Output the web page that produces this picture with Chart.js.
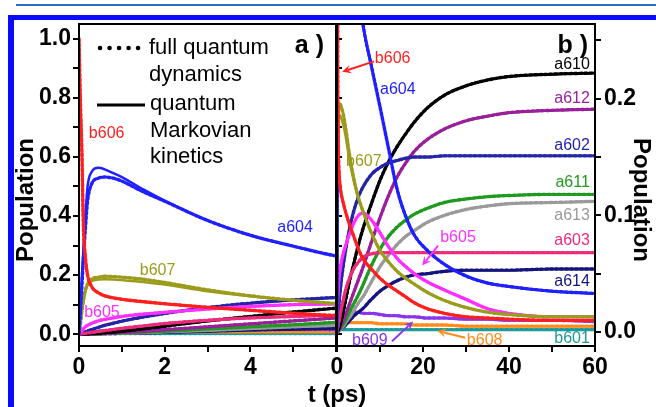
<!DOCTYPE html>
<html>
<head>
<meta charset="utf-8">
<script src="https://cdn.jsdelivr.net/npm/chart.js@4.4.1/dist/chart.umd.min.js"></script>
<style>
  body { margin: 0; width: 656px; height: 407px; overflow: hidden; position: relative; background: #fff;
         font-family: "Liberation Sans", Arial, sans-serif; }
  .rule { position: absolute; left: 16px; top: 4px; width: 640px; height: 2px; background: #2a6fc4; }
  .frame { position: absolute; left: 8px; top: 15px; width: 800px; height: 600px;
           border-left: 6px solid #0a0aff; border-top: 5px solid #0a0aff; }
  canvas { position: absolute; top: 0; }
  #chartA { left: 0; }
  #chartB { left: 326px; }
  .title { position: absolute; font-weight: bold; font-size: 24px; color: #000; white-space: nowrap; }
  #ytitleL { left: 25px; top: 200px; transform: translate(-50%, -50%) rotate(-90deg); }
  #ytitleR { left: 642px; top: 200px; transform: translate(-50%, -50%) rotate(90deg); }
  #xtitle { left: 337px; top: 394px; transform: translate(-50%, -50%); }
</style>
</head>
<body>
<div class="rule"></div>
<div class="frame"></div>
<canvas id="chartA" width="345" height="407"></canvas>
<canvas id="chartB" width="330" height="407"></canvas>
<div class="title" id="ytitleL">Population</div>
<div class="title" id="ytitleR">Population</div>
<div class="title" id="xtitle">t (ps)</div>
<script>
// time points (ps), shared by both panels
const times = [0, 0.03, 0.07, 0.1, 0.15, 0.2, 0.3, 0.45, 0.6, 0.8, 1, 1.5, 2, 3, 4, 5, 6,
               8, 10, 12, 14, 16, 18, 21, 25, 30, 35, 40, 50, 60];

// quantum Markovian kinetics (solid lines)
const b606 = [1.0, 0.8, 0.6, 0.38, 0.26, 0.2, 0.16, 0.14, 0.13, 0.123, 0.118, 0.11, 0.103, 0.091, 0.081, 0.071, 0.063,
              0.054, 0.046, 0.04, 0.035, 0.03, 0.025, 0.02, 0.016, 0.013, 0.012, 0.011, 0.01, 0.01];
const a604 = [0, 0.08, 0.2, 0.28, 0.4, 0.5, 0.55, 0.563, 0.558, 0.545, 0.532, 0.49, 0.452, 0.385, 0.335, 0.298, 0.265,
              0.228, 0.193, 0.157, 0.122, 0.099, 0.083, 0.07, 0.058, 0.048, 0.042, 0.039, 0.035, 0.033];
const b607 = [0, 0.03, 0.08, 0.11, 0.145, 0.165, 0.18, 0.185, 0.186, 0.185, 0.183, 0.177, 0.168, 0.145, 0.128, 0.114, 0.104,
              0.085, 0.07, 0.06, 0.052, 0.046, 0.041, 0.034, 0.027, 0.021, 0.017, 0.015, 0.013, 0.013];
const b605 = [0, 0.005, 0.012, 0.018, 0.025, 0.03, 0.037, 0.045, 0.05, 0.055, 0.06, 0.068, 0.074, 0.085, 0.094, 0.1, 0.102,
              0.096, 0.085, 0.073, 0.063, 0.056, 0.05, 0.043, 0.036, 0.028, 0.02, 0.016, 0.013, 0.013];
const a603 = [0, 0.001, 0.001, 0.002, 0.003, 0.004, 0.006, 0.009, 0.012, 0.016, 0.02, 0.028, 0.036, 0.047, 0.055, 0.06, 0.064,
              0.067, 0.068, 0.068, 0.068, 0.068, 0.068, 0.068, 0.068, 0.068, 0.068, 0.068, 0.068, 0.068];
const a602 = [0, 0.001, 0.003, 0.005, 0.008, 0.011, 0.016, 0.023, 0.03, 0.037, 0.044, 0.058, 0.07, 0.09, 0.105, 0.116, 0.124,
              0.135, 0.141, 0.145, 0.147, 0.149, 0.15, 0.15, 0.151, 0.151, 0.151, 0.151, 0.151, 0.151];
const a610 = [0, 0, 0, 0, 0.001, 0.001, 0.002, 0.003, 0.005, 0.007, 0.01, 0.018, 0.027, 0.045, 0.06, 0.075, 0.088,
              0.11, 0.13, 0.146, 0.159, 0.17, 0.18, 0.192, 0.203, 0.211, 0.216, 0.219, 0.221, 0.222];
const a612 = [0, 0, 0, 0, 0, 0.001, 0.001, 0.002, 0.003, 0.004, 0.006, 0.01, 0.015, 0.025, 0.035, 0.045, 0.055,
              0.077, 0.098, 0.117, 0.133, 0.145, 0.155, 0.165, 0.174, 0.181, 0.185, 0.188, 0.19, 0.191];
const a611 = [0, 0, 0, 0, 0, 0, 0.001, 0.001, 0.002, 0.003, 0.004, 0.007, 0.01, 0.018, 0.025, 0.032, 0.04,
              0.057, 0.071, 0.082, 0.09, 0.096, 0.101, 0.106, 0.111, 0.114, 0.116, 0.117, 0.118, 0.118];
const a613 = [0, 0, 0, 0, 0, 0, 0.001, 0.001, 0.001, 0.002, 0.003, 0.005, 0.008, 0.013, 0.019, 0.025, 0.03,
              0.043, 0.056, 0.066, 0.075, 0.082, 0.087, 0.094, 0.1, 0.105, 0.108, 0.11, 0.111, 0.112];
const a614 = [0, 0, 0, 0, 0, 0.001, 0.001, 0.001, 0.002, 0.002, 0.003, 0.004, 0.006, 0.01, 0.014, 0.017, 0.02,
              0.028, 0.035, 0.04, 0.044, 0.047, 0.049, 0.05, 0.052, 0.053, 0.053, 0.053, 0.054, 0.054];
const b609 = [0, 0.001, 0.002, 0.003, 0.005, 0.006, 0.008, 0.01, 0.012, 0.013, 0.014, 0.015, 0.016, 0.017, 0.017, 0.017, 0.016,
              0.016, 0.015, 0.014, 0.014, 0.013, 0.013, 0.012, 0.012, 0.011, 0.011, 0.01, 0.01, 0.009];
const b608 = [0, 0.001, 0.001, 0.002, 0.002, 0.003, 0.004, 0.005, 0.006, 0.007, 0.007, 0.008, 0.008, 0.008, 0.008, 0.008, 0.008,
              0.008, 0.007, 0.007, 0.007, 0.007, 0.006, 0.006, 0.006, 0.005, 0.005, 0.005, 0.005, 0.005];
const b601 = [0, 0, 0, 0.001, 0.001, 0.001, 0.001, 0.002, 0.002, 0.002, 0.002, 0.002, 0.002, 0.002, 0.002, 0.002, 0.002,
              0.002, 0.002, 0.002, 0.002, 0.002, 0.002, 0.002, 0.002, 0.002, 0.002, 0.002, 0.002, 0.002];

// full quantum dynamics (dotted) where it departs from the kinetics
const a604Full = [0, 0.07, 0.17, 0.25, 0.36, 0.45, 0.51, 0.528, 0.532, 0.528, 0.518, 0.482, 0.45, 0.385, 0.335, 0.298, 0.265,
                  0.228, 0.193, 0.157, 0.122, 0.099, 0.083, 0.07, 0.058, 0.048, 0.042, 0.039, 0.035, 0.033];
const b607Full = [0, 0.03, 0.08, 0.11, 0.15, 0.17, 0.187, 0.193, 0.196, 0.195, 0.193, 0.186, 0.175, 0.15, 0.13, 0.115, 0.104,
                  0.085, 0.07, 0.06, 0.052, 0.046, 0.041, 0.034, 0.027, 0.021, 0.017, 0.015, 0.013, 0.013];

// labelled ticks
const xLabelsA = [0, 2, 4];
const xLabelsB = [0, 20, 40, 60];
const yLabelsA = [0, 0.2, 0.4, 0.6, 0.8, 1.0];
const yLabelsB = [0, 0.1, 0.2];

const FONT = '"Liberation Sans", Arial, Helvetica, sans-serif';

const palette = {
  b606: '#ff1f1f', a604: '#1f1fff', b607: '#9b9b1c', b605: '#ff30ff', a603: '#ee2a7b',
  a602: '#2424a6', a610: '#000000', a612: '#9a1f9a', a611: '#1f9a1f', a613: '#9a9a9a',
  a614: '#14147e', b609: '#8a35ea', b608: '#ff8c1a', b601: '#1f9a9a'
};

// first entry is drawn on top
const series = [
  { name: 'b606', kin: b606, full: b606 },
  { name: 'a604', kin: a604, full: a604Full },
  { name: 'b607', kin: b607, full: b607Full },
  { name: 'b605', kin: b605, full: b605 },
  { name: 'a603', kin: a603, full: a603 },
  { name: 'a602', kin: a602, full: a602 },
  { name: 'a610', kin: a610, full: a610 },
  { name: 'a612', kin: a612, full: a612 },
  { name: 'a611', kin: a611, full: a611 },
  { name: 'a613', kin: a613, full: a613 },
  { name: 'a614', kin: a614, full: a614 },
  { name: 'b609', kin: b609, full: b609 },
  { name: 'b608', kin: b608, full: b608 },
  { name: 'b601', kin: b601, full: b601 }
];

function toPoints(vals) {
  return times.map((t, i) => ({ x: t, y: vals[i] }));
}

function buildSets() {
  const sets = [];
  series.forEach(s => {
    sets.push({ label: s.name, data: toPoints(s.kin), borderColor: palette[s.name], borderWidth: 2.5 });
    sets.push({ label: s.name + ' full', data: toPoints(s.full), borderColor: palette[s.name],
                borderWidth: 3.4, borderDash: [2.5, 2.5] });
  });
  return sets;
}

function labelIf(v, list, dec) {
  if (!list.some(l => Math.abs(l - v) < 1e-6)) return '';
  return (Math.abs(v) < 1e-9 ? 0 : v).toFixed(dec);
}

// annotations, in data coordinates
const notesA = [
  { text: 'b606', t: 0.23, v: 0.68, align: 'left' },
  { text: 'a604', t: 4.63, v: 0.36, align: 'left' },
  { text: 'b607', t: 1.42, v: 0.216, align: 'left' },
  { text: 'b605', t: 0.12, v: 0.074, align: 'left' }
];
const notesB = [
  { text: 'b606', t: 8.8, v: 0.234, align: 'left' },
  { text: 'a604', t: 10, v: 0.208, align: 'left' },
  { text: 'b607', t: 2.1, v: 0.146, align: 'left' },
  { text: 'a610', t: 58.8, v: 0.229, align: 'right' },
  { text: 'a612', t: 58.8, v: 0.2, align: 'right' },
  { text: 'a602', t: 58.8, v: 0.16, align: 'right' },
  { text: 'a611', t: 58.8, v: 0.128, align: 'right' },
  { text: 'a613', t: 58.8, v: 0.1, align: 'right' },
  { text: 'a603', t: 58.8, v: 0.078, align: 'right' },
  { text: 'a614', t: 58.8, v: 0.043, align: 'right' },
  { text: 'b601', t: 58.8, v: -0.006, align: 'right' },
  { text: 'b605', t: 24, v: 0.081, align: 'left' },
  { text: 'b609', t: 3.5, v: -0.007, align: 'left' },
  { text: 'b608', t: 30.2, v: -0.007, align: 'left' }
];
const arrowsB = [
  { name: 'b606', t1: 8.6, v1: 0.232, t2: 1.2, v2: 0.223 },
  { name: 'b605', t1: 23.5, v1: 0.074, t2: 19.8, v2: 0.057 },
  { name: 'b609', t1: 12.8, v1: -0.008, t2: 17.7, v2: 0.009 },
  { name: 'b608', t1: 29.8, v1: -0.005, t2: 23.3, v2: 0.001 }
];

function drawArrow(ctx, x1, y1, x2, y2, color) {
  const ang = Math.atan2(y2 - y1, x2 - x1), h = 10;
  ctx.strokeStyle = color;
  ctx.fillStyle = color;
  ctx.lineWidth = 2;
  ctx.beginPath();
  ctx.moveTo(x1, y1);
  ctx.lineTo(x2 - Math.cos(ang) * h * 0.6, y2 - Math.sin(ang) * h * 0.6);
  ctx.stroke();
  ctx.beginPath();
  ctx.moveTo(x2, y2);
  ctx.lineTo(x2 - h * Math.cos(ang - 0.45), y2 - h * Math.sin(ang - 0.45));
  ctx.lineTo(x2 - h * 0.55 * Math.cos(ang), y2 - h * 0.55 * Math.sin(ang));
  ctx.lineTo(x2 - h * Math.cos(ang + 0.45), y2 - h * Math.sin(ang + 0.45));
  ctx.closePath();
  ctx.fill();
}

const notesPlugin = {
  id: 'notes',
  afterDatasetsDraw(chart, args, opts) {
    const ctx = chart.ctx, x = chart.scales.x, y = chart.scales.y, area = chart.chartArea;
    ctx.save();
    ctx.font = '16px ' + FONT;
    ctx.textBaseline = 'middle';
    (opts.labels || []).forEach(l => {
      ctx.fillStyle = palette[l.text];
      ctx.textAlign = l.align;
      ctx.fillText(l.text, x.getPixelForValue(l.t), y.getPixelForValue(l.v));
    });
    (opts.arrows || []).forEach(a => {
      drawArrow(ctx, x.getPixelForValue(a.t1), y.getPixelForValue(a.v1),
                x.getPixelForValue(a.t2), y.getPixelForValue(a.v2), palette[a.name]);
    });
    // panel tag
    ctx.fillStyle = '#000';
    ctx.font = 'bold 25px ' + FONT;
    ctx.textAlign = 'right';
    ctx.fillText(opts.tag, area.right - opts.tagInset, area.top + 22);
    // legend box (panel a only)
    if (opts.legend) {
      const lx = area.left, ty = area.top;
      ctx.strokeStyle = '#000';
      ctx.lineCap = 'round';
      ctx.lineWidth = 4.5;
      ctx.setLineDash([0.1, 9.4]);
      ctx.beginPath();
      ctx.moveTo(lx + 21, ty + 24);
      ctx.lineTo(lx + 66, ty + 24);
      ctx.stroke();
      ctx.setLineDash([]);
      ctx.lineCap = 'butt';
      ctx.lineWidth = 3;
      ctx.beginPath();
      ctx.moveTo(lx + 18, ty + 81);
      ctx.lineTo(lx + 66, ty + 81);
      ctx.stroke();
      ctx.font = '22px ' + FONT;
      ctx.textAlign = 'left';
      ctx.fillText('full quantum', lx + 70, ty + 24);
      ctx.fillText('dynamics', lx + 70, ty + 51);
      ctx.fillText('quantum', lx + 71, ty + 80);
      ctx.fillText('Markovian', lx + 71, ty + 107);
      ctx.fillText('kinetics', lx + 71, ty + 133);
    }
    ctx.restore();
  },
  afterDraw(chart) {
    const ctx = chart.ctx, a = chart.chartArea;
    ctx.save();
    ctx.strokeStyle = '#000';
    ctx.lineWidth = 2;
    ctx.strokeRect(a.left, a.top, a.right - a.left, a.bottom - a.top);
    ctx.restore();
  }
};

const tickFont = { family: FONT, size: 23, weight: 'bold' };
const gridCfg = { drawOnChartArea: false, drawTicks: true, tickLength: 6, lineWidth: 2, tickWidth: 2,
                  color: '#000', tickColor: '#000' };
const borderCfg = { display: true, color: '#000', width: 2 };

const baseOptions = {
  responsive: false,
  animation: false,
  elements: { point: { radius: 0 }, line: { cubicInterpolationMode: 'monotone', borderCapStyle: 'round' } },
  plugins: { legend: { display: false }, tooltip: { enabled: false } }
};

new Chart(document.getElementById('chartA'), {
  type: 'line',
  data: { datasets: buildSets() },
  options: Object.assign({}, baseOptions, {
    layout: { padding: { top: 24, left: 0, right: 0, bottom: 0 } },
    plugins: Object.assign({}, baseOptions.plugins, {
      notes: { labels: notesA, tag: 'a )', tagInset: 12, legend: true }
    }),
    scales: {
      x: {
        type: 'linear', min: 0, max: 6, grid: gridCfg, border: borderCfg,
        ticks: { stepSize: 1, includeBounds: false, autoSkip: false, maxRotation: 0, padding: 2,
                 font: tickFont, color: '#000', callback: v => labelIf(v, xLabelsA, 0) },
        afterFit: s => { s.height = 61; }
      },
      y: {
        type: 'linear', position: 'left', min: -0.04, max: 1.05, grid: gridCfg, border: borderCfg,
        ticks: { stepSize: 0.1, includeBounds: false, autoSkip: false, padding: 2, font: tickFont, color: '#000',
                 callback: v => labelIf(v, yLabelsA, 1) },
        afterFit: s => { s.width = 79; }
      },
      yR: {
        type: 'linear', position: 'right', min: -0.04, max: 1.05, grid: gridCfg, border: borderCfg,
        ticks: { stepSize: 0.1, includeBounds: false, autoSkip: false, display: false },
        afterFit: s => { s.width = 9; }
      }
    }
  }),
  plugins: [notesPlugin]
});

new Chart(document.getElementById('chartB'), {
  type: 'line',
  data: { datasets: buildSets() },
  options: Object.assign({}, baseOptions, {
    layout: { padding: { top: 24, left: 11, right: 0, bottom: 0 } },
    plugins: Object.assign({}, baseOptions.plugins, {
      notes: { labels: notesB, arrows: arrowsB, tag: 'b )', tagInset: 7, legend: false }
    }),
    scales: {
      x: {
        type: 'linear', min: 0, max: 60, grid: gridCfg, border: borderCfg,
        ticks: { stepSize: 10, includeBounds: false, autoSkip: false, maxRotation: 0, padding: 2,
                 font: tickFont, color: '#000', callback: v => labelIf(v, xLabelsB, 0) },
        afterFit: s => { s.height = 61; }
      },
      y: {
        type: 'linear', position: 'right', min: -0.012, max: 0.264, grid: gridCfg, border: borderCfg,
        ticks: { stepSize: 0.05, includeBounds: false, autoSkip: false, padding: 3, font: tickFont, color: '#000',
                 callback: v => labelIf(v, yLabelsB, 1) },
        afterFit: s => { s.width = 61; }
      }
    }
  }),
  plugins: [notesPlugin]
});
</script>
</body>
</html>
